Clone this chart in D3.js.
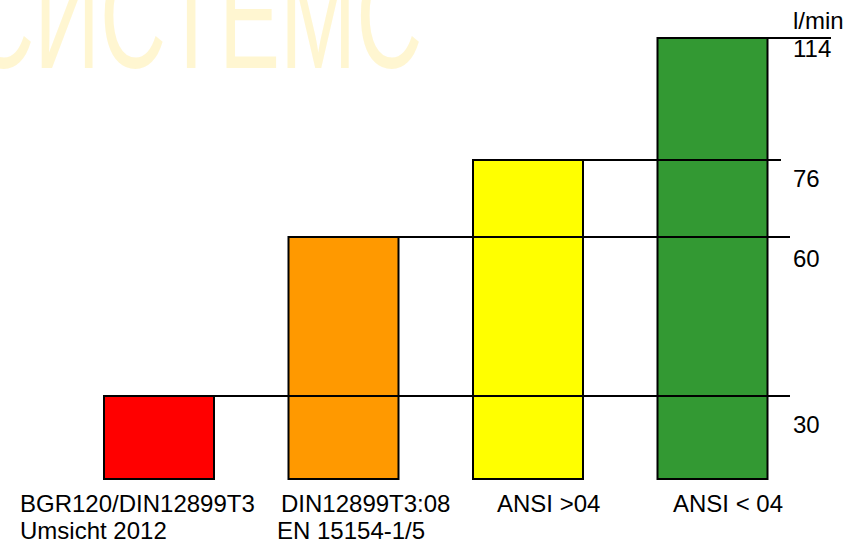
<!DOCTYPE html>
<html>
<head>
<meta charset="utf-8">
<script src="https://cdn.jsdelivr.net/npm/d3@7"></script>
<style>
	body { margin: 0; background: #fff; }
	svg text { font-family: "Liberation Sans", Arial, sans-serif; font-size: 24px; fill: #000; }
</style>
</head>
<body>
<svg id="chart" width="862" height="543"></svg>
<script>
"use strict";

// data
var categories = ["BGR120/DIN12899T3", "DIN12899T3:08", "ANSI >04", "ANSI < 04"];
var subtitles  = ["Umsicht 2012", "EN 15154-1/5", "", ""];
var flows      = [30, 60, 76, 114];
var barColors  = ["#ff0000", "#ff9900", "#ffff00", "#339933"];
var unitLabel  = "l/min";
var watermark  = "СИСТЕМС";

function draw() {
	var svg = d3.select("#chart");

	var xscale =
		d3.scaleBand()
		  .domain(categories)
		  .range([104, 767.5])
		  .paddingInner(1 - 110 / 184.5)
		  .paddingOuter(0);

	// the original spacing is not linear, so map each level piece by piece
	var yscale =
		d3.scaleLinear()
		  .domain([0, 30, 60, 76, 114])
		  .range([479, 396, 237, 160, 38]);

	var maxflow = d3.max(flows);
	var rows = categories.map((c, i)=>({cat: c, sub: subtitles[i], v: flows[i], color: barColors[i]}));

	// bars
	svg.append("g")
	   .selectAll("rect")
	   .data(rows)
	   .enter()
	   .append("rect")
	   .attr("x", d=>xscale(d.cat))
	   .attr("width", xscale.bandwidth())
	   .attr("y", d=>yscale(d.v))
	   .attr("height", d=>yscale(0) - yscale(d.v))
	   .attr("fill", d=>d.color)
	   .attr("stroke", "#000")
	   .attr("stroke-width", 2);

	// level lines run from each bar top out to the label column
	svg.append("g")
	   .selectAll("line")
	   .data(rows)
	   .enter()
	   .append("line")
	   .attr("x1", d=>xscale(d.cat))
	   .attr("x2", d=>d.v == maxflow ? 831 : (d.v == 76 ? 781 : 790))
	   .attr("y1", d=>yscale(d.v))
	   .attr("y2", d=>yscale(d.v))
	   .attr("stroke", "#000")
	   .attr("stroke-width", 2);

	// level labels sit a bit further below the line the lower they are
	svg.append("g")
	   .selectAll("text")
	   .data(rows)
	   .enter()
	   .append("text")
	   .attr("x", 793)
	   .attr("y", d=>yscale(d.v) + 19 + (maxflow - d.v) * 0.21)
	   .text(d=>d.v);

	svg.append("text")
	   .attr("x", 793)
	   .attr("y", 29)
	   .text(unitLabel);

	// category labels, left aligned blocks under the bars
	var labelShift = [-84, -7.5, 24, 15.5];
	var cats = svg.append("g")
	   .selectAll("text")
	   .data(rows)
	   .enter()
	   .append("text")
	   .attr("x", (d, i)=>xscale(d.cat) + labelShift[i])
	   .attr("y", 512);
	cats.append("tspan")
	    .text(d=>d.cat);
	cats.append("tspan")
	    .attr("x", (d, i)=>xscale(d.cat) + labelShift[i] - (i == 1 ? 4 : 0))
	    .attr("dy", 27)
	    .text(d=>d.sub);

	// faint watermark over everything, top runs off the page
	svg.append("text")
	   .attr("transform", "scale(0.61,1)")
	   .attr("x", -52)
	   .attr("y", 68)
	   .style("font-size", "150px")
	   .style("fill", "rgba(255,204,0,0.18)")
	   .text(watermark);
}

document.addEventListener("DOMContentLoaded", draw);
</script>
</body>
</html>
